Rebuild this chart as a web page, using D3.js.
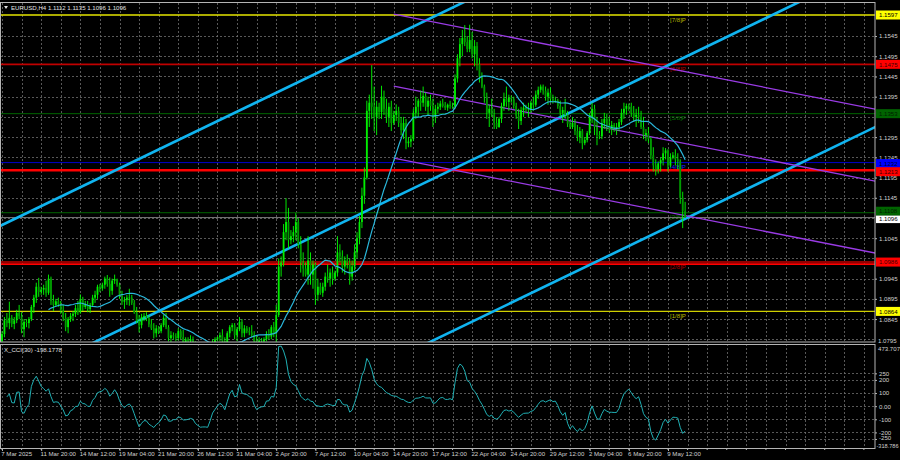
<!DOCTYPE html>
<html><head><meta charset="utf-8">
<script src="https://cdn.jsdelivr.net/npm/d3@7"></script>
<style>
html,body{margin:0;padding:0;background:#000;overflow:hidden;}
svg{display:block;}
text{font-family:"Liberation Sans",Arial,sans-serif;}
</style></head><body>
<svg id="c" width="900" height="460"></svg>
<script>
// ---------- DATA (prices in 1/10000 units) ----------
// H4 bars from 7 Mar 2025 04:00 to 12 May 2025 16:00 : [open, high, low, close]
const ohlc = [
// 7 Mar
[10790,10815,10782,10808],[10808,10850,10800,10842],[10842,10860,10825,10835],[10835,10888,10820,10848],[10848,10855,10825,10833],
// 10 Mar
[10833,10850,10820,10842],[10842,10868,10835,10860],[10860,10880,10845,10852],[10852,10862,10810,10820],[10820,10845,10800,10838],[10838,10845,10825,10835],
// 11 Mar
[10835,10850,10822,10845],[10845,10880,10840,10875],[10875,10905,10860,10898],[10898,10935,10885,10925],[10925,10947,10900,10912],[10912,10925,10905,10918],
// 12 Mar
[10918,10930,10905,10922],[10922,10940,10900,10910],[10910,10955,10905,10945],[10945,10950,10880,10890],[10890,10905,10865,10880],[10880,10895,10875,10889],
// 13 Mar
[10889,10898,10875,10882],[10882,10890,10858,10865],[10865,10880,10840,10848],[10848,10860,10815,10825],[10825,10850,10810,10845],[10845,10860,10838,10853],
// 14 Mar
[10853,10865,10840,10858],[10858,10880,10850,10872],[10872,10890,10855,10862],[10862,10906,10858,10895],[10895,10900,10865,10875],[10875,10890,10870,10880],
// 17 Mar
[10880,10890,10862,10870],[10870,10885,10860,10880],[10880,10905,10875,10898],[10898,10915,10885,10905],[10905,10930,10895,10925],[10925,10932,10912,10921],
// 18 Mar
[10921,10935,10915,10930],[10930,10950,10920,10945],[10945,10954,10925,10932],[10932,10948,10900,10915],[10915,10945,10905,10940],[10940,10955,10932,10944],
// 19 Mar
[10944,10945,10925,10930],[10930,10935,10895,10902],[10902,10915,10880,10888],[10888,10900,10870,10892],[10892,10905,10880,10898],[10898,10920,10878,10898],
// 20 Mar
[10898,10905,10880,10885],[10885,10892,10858,10862],[10862,10875,10835,10840],[10840,10855,10812,10830],[10830,10858,10822,10850],[10850,10860,10840,10853],
// 21 Mar
[10853,10862,10840,10848],[10848,10855,10825,10832],[10832,10845,10818,10822],[10822,10835,10797,10810],[10810,10830,10800,10822],[10822,10828,10808,10815],
// 24 Mar
[10815,10835,10810,10830],[10830,10855,10825,10848],[10848,10860,10820,10825],[10825,10830,10790,10798],[10798,10815,10780,10805],[10805,10812,10795,10802],
// 25 Mar
[10802,10810,10790,10798],[10798,10822,10792,10815],[10815,10820,10795,10800],[10800,10818,10775,10785],[10785,10800,10778,10795],[10795,10800,10785,10790],
// 26 Mar
[10790,10805,10782,10795],[10795,10802,10780,10785],[10785,10790,10760,10768],[10768,10780,10750,10758],[10758,10765,10745,10752],[10752,10760,10745,10752],
// 27 Mar
[10752,10760,10740,10748],[10748,10755,10733,10745],[10745,10772,10740,10768],[10768,10795,10760,10788],[10788,10800,10775,10795],[10795,10802,10790,10800],
// 28 Mar
[10800,10812,10790,10805],[10805,10820,10780,10790],[10790,10800,10770,10785],[10785,10815,10780,10810],[10810,10830,10800,10825],[10825,10835,10815,10830],
// 31 Mar
[10830,10835,10795,10805],[10805,10825,10790,10820],[10820,10850,10815,10838],[10838,10845,10800,10810],[10810,10830,10800,10822],[10822,10828,10810,10815],
// 1 Apr
[10815,10825,10805,10812],[10812,10830,10800,10805],[10805,10815,10780,10790],[10790,10805,10770,10780],[10780,10800,10775,10792],[10792,10798,10785,10790],
// 2 Apr
[10790,10800,10780,10795],[10795,10815,10790,10808],[10808,10820,10795,10802],[10802,10830,10795,10825],[10825,10838,10800,10810],[10810,10880,10775,10855],
// 3 Apr
[10855,10995,10850,10975],[10975,11000,10950,10985],[10985,11080,10975,11060],[11060,11144,11040,11085],[11085,11120,11020,11040],[11040,11065,11030,11050],
// 4 Apr
[11050,11075,11035,11060],[11060,11107,11040,11085],[11085,11095,11020,11030],[11030,11050,10960,10985],[10985,11010,10950,10970],[10970,10985,10950,10955],
// 7 Apr
[10955,11050,10930,10990],[10990,11010,10930,10955],[10955,10990,10920,10980],[10980,10985,10880,10905],[10905,10945,10890,10925],[10925,10935,10905,10910],
// 8 Apr
[10910,10935,10900,10925],[10925,10960,10915,10950],[10950,10980,10935,10945],[10945,10970,10925,10960],[10960,10975,10930,10945],[10945,10965,10940,10960],
// 9 Apr
[10960,11050,10950,11010],[11010,11030,10985,11000],[11000,11015,10960,10975],[10975,11000,10955,10990],[10990,11005,10970,10985],[10985,10995,10930,10950],
// 10 Apr
[10950,10990,10940,10975],[10975,11030,10965,11010],[11010,11060,10995,11045],[11045,11100,11030,11085],[11085,11170,11070,11150],[11150,11220,11130,11195],
// 11 Apr
[11195,11385,11190,11360],[11360,11400,11320,11380],[11380,11473,11340,11370],[11370,11420,11310,11345],[11345,11385,11300,11370],[11370,11380,11340,11357],
// 14 Apr
[11357,11422,11340,11395],[11395,11410,11350,11365],[11365,11390,11330,11345],[11345,11380,11320,11370],[11370,11385,11310,11330],[11330,11360,11325,11350],
// 15 Apr
[11350,11376,11335,11360],[11360,11370,11320,11330],[11330,11345,11300,11312],[11312,11345,11290,11330],[11330,11340,11265,11280],[11280,11295,11270,11284],
// 16 Apr
[11284,11300,11270,11290],[11290,11365,11285,11355],[11355,11395,11340,11370],[11370,11390,11345,11385],[11385,11410,11360,11380],[11380,11420,11370,11397],
// 17 Apr
[11397,11405,11360,11370],[11370,11395,11350,11385],[11385,11400,11360,11372],[11372,11390,11320,11345],[11345,11375,11330,11365],[11365,11380,11355,11370],
// 18 Apr
[11370,11385,11362,11378],[11378,11390,11368,11372],[11372,11382,11362,11368],[11368,11378,11360,11375],[11375,11385,11365,11372],[11372,11380,11365,11370],
// 21 Apr
[11370,11450,11365,11440],[11440,11500,11430,11490],[11490,11540,11470,11525],[11525,11560,11495,11540],[11540,11572,11520,11530],[11530,11545,11505,11513],
// 22 Apr
[11513,11573,11505,11535],[11535,11555,11490,11500],[11500,11535,11470,11520],[11520,11530,11460,11475],[11475,11490,11430,11445],[11445,11455,11416,11420],
// 23 Apr
[11420,11425,11380,11395],[11395,11405,11340,11355],[11355,11375,11320,11365],[11365,11390,11345,11350],[11350,11365,11315,11330],[11330,11345,11315,11320],
// 24 Apr
[11320,11345,11318,11340],[11340,11380,11330,11372],[11372,11405,11360,11390],[11390,11420,11370,11382],[11382,11400,11360,11392],[11392,11398,11380,11389],
// 25 Apr
[11389,11395,11365,11372],[11372,11380,11340,11348],[11348,11365,11315,11335],[11335,11370,11325,11362],[11362,11380,11345,11368],[11368,11375,11358,11364],
// 28 Apr
[11364,11380,11345,11365],[11365,11385,11355,11380],[11380,11395,11360,11375],[11375,11410,11370,11400],[11400,11420,11390,11412],[11412,11425,11405,11420],
// 29 Apr
[11420,11425,11400,11410],[11410,11420,11385,11395],[11395,11415,11375,11405],[11405,11418,11380,11390],[11390,11400,11378,11385],[11385,11395,11380,11385],
// 30 Apr
[11385,11390,11365,11372],[11372,11385,11345,11355],[11355,11370,11330,11362],[11362,11390,11340,11350],[11350,11360,11320,11328],[11328,11335,11315,11320],
// 1 May
[11320,11345,11315,11330],[11330,11340,11300,11310],[11310,11325,11285,11295],[11295,11320,11280,11310],[11310,11315,11265,11280],[11280,11295,11275,11288],
// 2 May
[11288,11310,11282,11305],[11305,11355,11300,11345],[11345,11380,11330,11365],[11365,11375,11300,11320],[11320,11345,11275,11300],[11300,11310,11290,11297],
// 5 May
[11297,11340,11290,11330],[11330,11355,11315,11340],[11340,11352,11310,11322],[11322,11345,11305,11315],[11315,11335,11300,11325],[11325,11330,11308,11315],
// 6 May
[11315,11330,11300,11320],[11320,11340,11310,11332],[11332,11365,11325,11355],[11355,11380,11340,11365],[11365,11378,11350,11372],[11372,11378,11360,11370],
// 7 May
[11370,11380,11345,11355],[11355,11372,11335,11345],[11345,11365,11320,11350],[11350,11370,11330,11345],[11345,11360,11315,11320],[11320,11345,11290,11300],
// 8 May
[11300,11315,11285,11305],[11305,11320,11280,11290],[11290,11295,11240,11250],[11250,11270,11210,11225],[11225,11240,11200,11215],[11215,11235,11205,11230],
// 9 May
[11230,11245,11210,11238],[11238,11270,11225,11255],[11255,11268,11240,11262],[11262,11265,11210,11225],[11225,11255,11220,11245],[11245,11258,11240,11250],
// 12 May
[11250,11265,11225,11240],[11240,11255,11215,11235],[11235,11240,11130,11145],[11145,11160,11070,11112],[11112,11135,11096,11096]
];

const timeLabels = ["7 Mar 2025","11 Mar 20:00","14 Mar 12:00","19 Mar 04:00","21 Mar 20:00","26 Mar 12:00","31 Mar 04:00","2 Apr 20:00","7 Apr 12:00","10 Apr 04:00","14 Apr 20:00","17 Apr 12:00","22 Apr 04:00","24 Apr 20:00","29 Apr 12:00","2 May 04:00","6 May 20:00","9 May 12:00"];
const timeLabelBars = [0,16,32,48,64,80,96,112,128,144,160,176,192,208,224,240,256,272];

// price grid levels, and the ones whose axis label is visible (others are covered by tags)
const priceTicks = [1.1545,1.1495,1.1445,1.1395,1.1345,1.1295,1.1245,1.1195,1.1145,1.1095,1.1045,1.0995,1.0945,1.0895,1.0845,1.0795];
const priceLabelTicks = [1.1545,1.1495,1.1445,1.1395,1.1295,1.1245,1.1195,1.1145,1.1045,1.0945,1.0895,1.0845];
const cciTicks = [250,200,100,0,-100,-200,-250];
const cciRange = [-318.786, 473.707];

// horizontal levels
const levelPrices = [1.1597, 1.1475, 1.1353, 1.1232, 1.1213, 1.1108, 1.0986, 1.0981, 1.0864];
const levelNames  = ["[7/8]P","[6/8]P","[5/8]P","[4/8]P","","[3/8]P","[2/8]P","","[1/8]P"];
const levelTags   = ["1.1597","1.1475","1.1353","1.1232","1.1213","1.1108","1.0986","","1.0864"];
const currentPrice = 1.1096;
const title = "EURUSD,H4  1.1112 1.1135 1.1096 1.1096";
const cciTitle = "X_CCI(30) -198.1778";

// channels: [barIndex, price] anchor points
const cyanAnchors = [[175, 1.0789], [279, 1.1093]];
const cyanOffsets = [0, 0.0400, 0.0800];
const purpleAnchors = [[160, 1.1599], [356, 1.1365]];
const purpleOffsets = [0, -0.0178, -0.0356];

const maPeriod = 20, cciPeriod = 30;

// ---------- STYLE ----------
const levelStyle = [
 {c:"#e6e600", w:1.4, t:"#b8b800", bg:"#ffff00", fg:"#000", dy:0},
 {c:"#c00000", w:1.6, t:"#b00000", bg:"#ff0000", fg:"#400000", dy:0},
 {c:"#006400", w:1,   t:"#007000", bg:"#006400", fg:"#002000", dy:0},
 {c:"#0000c8", w:1,   t:"#2020ff", bg:"#0000ff", fg:"#000030", dy:1.0},
 {c:"#ff0000", w:2.6, t:"#ff0000", bg:"#ff0000", fg:"#400000", dy:1.4},
 {c:"#006400", w:1,   t:"#007000", bg:"#006400", fg:"#002000", dy:-1.5},
 {c:"#c00000", w:1.4, t:"#b00000", bg:"#ff0000", fg:"#400000", dy:0},
 {c:"#ff0000", w:1.6, t:"#ff0000", bg:null, fg:null, dy:0},
 {c:"#d0d000", w:1.2, t:"#b8b800", bg:"#ffff00", fg:"#000", dy:0}
];
const FS = 6.1;

// ---------- LAYOUT ----------
const svg = d3.select("#c");
const plotR = 875, mainT = 3, mainB = 342, cciT = 344, cciB = 448;
const N = ohlc.length;
const x = d3.scaleLinear().domain([0, 272]).range([2, 668]);
const y = d3.scaleLinear().domain([1.0795, 1.1597]).range([339.3, 15]);
const yc = d3.scaleLinear().domain(cciRange).range([cciB, cciT]);
const P = v => v / 10000;
const iRight = x.invert(plotR);

svg.append("rect").attr("width",900).attr("height",460).attr("fill","#000");
const defs = svg.append("defs");
defs.append("clipPath").attr("id","cm").append("rect").attr("x",0).attr("y",mainT).attr("width",plotR).attr("height",mainB-mainT);
defs.append("clipPath").attr("id","cc").append("rect").attr("x",0).attr("y",cciT).attr("width",plotR).attr("height",cciB-cciT);

const gMain = svg.append("g").attr("clip-path","url(#cm)");
const gCci = svg.append("g").attr("clip-path","url(#cc)");

// grid
const gridBars = d3.range(0, iRight, 8);
const gridColor = "#6e6e6e";
[[gMain, mainT, mainB],[gCci, cciT, cciB]].forEach(([g,t,b]) => {
  g.append("g").selectAll("line").data(gridBars).join("line")
   .attr("x1", d => Math.round(x(d))+0.5).attr("x2", d => Math.round(x(d))+0.5)
   .attr("y1", t).attr("y2", b).attr("stroke", gridColor).attr("stroke-width",0.8).attr("stroke-dasharray","2,2");
});
gMain.append("g").selectAll("line").data(priceTicks).join("line")
  .attr("x1",0).attr("x2",plotR).attr("y1", d => Math.round(y(d))+0.5).attr("y2", d => Math.round(y(d))+0.5)
  .attr("stroke", gridColor).attr("stroke-width",0.8).attr("stroke-dasharray","2,2");
gCci.append("g").selectAll("line").data(cciTicks).join("line")
  .attr("x1",0).attr("x2",plotR).attr("y1", d => Math.round(yc(d))+0.5).attr("y2", d => Math.round(yc(d))+0.5)
  .attr("stroke", gridColor).attr("stroke-width",0.8).attr("stroke-dasharray","2,2");

// level lines
levelPrices.forEach((p,k) => {
  const s = levelStyle[k];
  gMain.append("line").attr("x1",0).attr("x2",plotR).attr("y1",y(p)).attr("y2",y(p))
    .attr("stroke", s.c).attr("stroke-width", s.w);
  if (levelNames[k]) {
    gMain.append("text").attr("x",670).attr("y",y(p)+6.5).text(levelNames[k])
      .attr("fill", s.t).attr("font-size",FS);
  }
});
// current price line
gMain.append("line").attr("x1",0).attr("x2",plotR).attr("y1",y(currentPrice)).attr("y2",y(currentPrice))
  .attr("stroke","#9a9a9a").attr("stroke-width",0.8);

// channels
function ext(a, off, i0, i1) {
  const s = (a[1][1]-a[0][1])/(a[1][0]-a[0][0]);
  return [[i0, a[0][1]+off+s*(i0-a[0][0])],[i1, a[0][1]+off+s*(i1-a[0][0])]];
}
const lineGen = d3.line().x(d => x(d[0])).y(d => y(d[1]));
cyanOffsets.forEach(o => {
  gMain.append("path").attr("d", lineGen(ext(cyanAnchors, o, -5, iRight+2)))
    .attr("stroke","#10b4f0").attr("stroke-width",2.6).attr("fill","none");
});
purpleOffsets.forEach(o => {
  gMain.append("path").attr("d", lineGen(ext(purpleAnchors, o, purpleAnchors[0][0], iRight+2)))
    .attr("stroke","#9a3be6").attr("stroke-width",1.3).attr("fill","none");
});

// candles
const gc = gMain.append("g");
gc.selectAll("line").data(ohlc).join("line")
  .attr("x1",(d,i)=>x(i)).attr("x2",(d,i)=>x(i))
  .attr("y1",d=>y(P(d[1]))).attr("y2",d=>y(P(d[2])))
  .attr("stroke","#00ff00").attr("stroke-width",0.9);
gc.selectAll("rect").data(ohlc).join("rect")
  .attr("x",(d,i)=>x(i)-0.9).attr("width",1.8)
  .attr("y",d=>y(P(Math.max(d[0],d[3]))))
  .attr("height",d=>Math.max(0.7, Math.abs(y(P(d[0]))-y(P(d[3])))))
  .attr("fill",d=> d[3]>=d[0] ? "#00ee00" : "#009a00");

// moving average
const closes = ohlc.map(d=>P(d[3]));
const ma = [];
for (let i = maPeriod-1; i < N; i++) ma.push([i, d3.mean(closes.slice(i-maPeriod+1, i+1))]);
gMain.append("path").attr("d", lineGen(ma)).attr("stroke","#2ab8dc").attr("stroke-width",1.2).attr("fill","none");

// CCI
const tp = ohlc.map(d => (P(d[1])+P(d[2])+P(d[3]))/3);
const cci = [];
for (let i = 2; i < N; i++) {
  const w = tp.slice(Math.max(0,i-cciPeriod+1), i+1);
  const m = d3.mean(w);
  const md = d3.mean(w, v => Math.abs(v-m));
  cci.push([i, md>0 ? (tp[i]-m)/(0.015*md) : 0]);
}
gCci.append("path").attr("d", d3.line().x(d=>x(d[0])).y(d=>yc(d[1]))(cci))
  .attr("stroke","#20b0b4").attr("stroke-width",1).attr("fill","none");

// frames
svg.append("rect").attr("x",0.5).attr("y",mainT-0.5).attr("width",plotR-0.5).attr("height",mainB-mainT+0.5)
  .attr("fill","none").attr("stroke","#b4b4b4").attr("stroke-width",1);
svg.append("rect").attr("x",0.5).attr("y",cciT+0.5).attr("width",plotR-0.5).attr("height",cciB-cciT)
  .attr("fill","none").attr("stroke","#b4b4b4").attr("stroke-width",1);

// price axis
const pa = svg.append("g").attr("transform",`translate(${plotR},0)`)
  .call(d3.axisRight(y).tickValues(priceLabelTicks).tickFormat(d3.format(".4f")).tickSize(2).tickPadding(2));
pa.select(".domain").remove();
pa.selectAll("line").attr("stroke","#b4b4b4");
pa.selectAll("text").attr("fill","#d0d0d0").attr("font-size",FS);

// level tags on the axis
levelPrices.forEach((p,k) => {
  const s = levelStyle[k];
  if (!levelTags[k] || !s.bg) return;
  const cy = y(p) + s.dy;
  svg.append("rect").attr("x",plotR+1).attr("y",cy-4.5).attr("width",900-plotR-1).attr("height",9).attr("fill",s.bg);
  svg.append("text").attr("x",plotR+4).attr("y",cy+2.2).text(levelTags[k]).attr("fill",s.fg).attr("font-size",FS);
});
const cpy = y(currentPrice) + 1.5;
svg.append("rect").attr("x",plotR+1).attr("y",cpy-3.5).attr("width",900-plotR-1).attr("height",7.5).attr("fill","#ffffff");
svg.append("text").attr("x",plotR+4).attr("y",cpy+2.4).text(currentPrice.toFixed(4)).attr("fill","#000").attr("font-size",FS);

// CCI axis
const ca = svg.append("g").attr("transform",`translate(${plotR},0)`)
  .call(d3.axisRight(yc).tickValues(cciTicks).tickFormat(d => d===0 ? "0.00" : d).tickSize(2).tickPadding(2));
ca.select(".domain").remove();
ca.selectAll("line").attr("stroke","#b4b4b4");
ca.selectAll("text").attr("fill","#d0d0d0").attr("font-size",FS);
ca.selectAll(".tick").filter(d => d === -250).select("text").attr("dy","0.1em");
svg.append("text").attr("x",plotR+3).attr("y",cciT+6.5).text(cciRange[1].toFixed(3)).attr("fill","#d0d0d0").attr("font-size",FS);
svg.append("text").attr("x",plotR+1.5).attr("y",cciB-0.3).text(cciRange[0].toFixed(3)).attr("fill","#d0d0d0").attr("font-size",5.6);
svg.append("text").attr("x",plotR+3).attr("y",mainB+0.5).text("1.0795").attr("fill","#d0d0d0").attr("font-size",FS);

// time axis
const ta = svg.append("g").attr("transform",`translate(0,${cciB})`)
  .call(d3.axisBottom(x).tickValues(timeLabelBars).tickFormat((d,i)=>timeLabels[i]).tickSize(3).tickPadding(1));
ta.select(".domain").attr("stroke","#b4b4b4");
ta.selectAll("line").attr("stroke","#b4b4b4");
ta.selectAll("text").attr("fill","#d0d0d0").attr("font-size",FS).attr("text-anchor","start").attr("dx","-0.2em");
svg.append("g").selectAll("line").data(gridBars).join("line")
  .attr("x1",d=>x(d)).attr("x2",d=>x(d)).attr("y1",cciB).attr("y2",cciB+2).attr("stroke","#b4b4b4");

// titles
svg.append("path").attr("d","M4,6 L8,6 L6,9 Z").attr("fill","#e0e0e0");
svg.append("text").attr("x",11).attr("y",9.5).text(title).attr("fill","#e0e0e0").attr("font-size",FS);
svg.append("text").attr("x",4).attr("y",352).text(cciTitle).attr("fill","#e0e0e0").attr("font-size",FS);
</script>
</body></html>
